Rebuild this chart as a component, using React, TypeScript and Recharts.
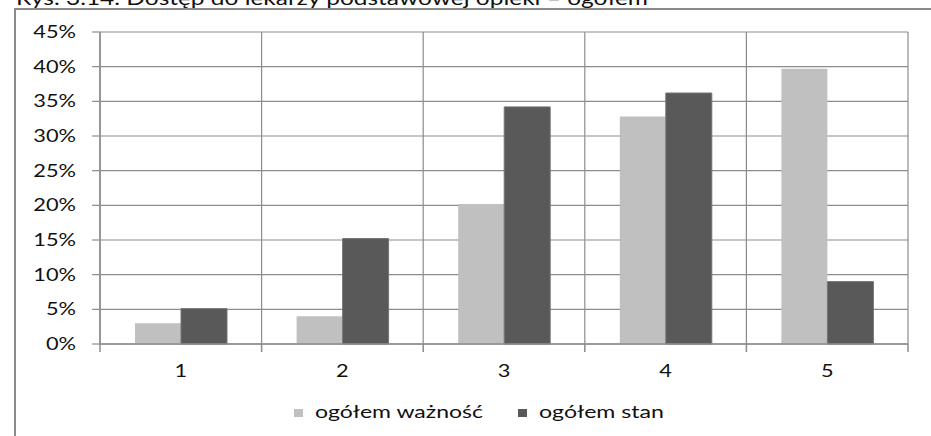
import React from 'react';
import { BarChart, Bar, XAxis, YAxis, CartesianGrid, Legend } from 'recharts';

const categories = ['1', '2', '3', '4', '5'];
const importanceValues = [3.0, 4.0, 20.2, 32.8, 39.7];
const stateValues = [5.1, 15.2, 34.2, 36.2, 9.0];
const yTicks = [0, 5, 10, 15, 20, 25, 30, 35, 40, 45];
const seriesNames = ['ogółem ważność', 'ogółem stan'];
const titleText = 'Rys. 3.14. Dostęp do lekarzy podstawowej opieki – ogółem';

const data = categories.map((c, i) => ({
  cat: c,
  importance: importanceValues[i],
  state: stateValues[i],
}));

const FONT = 'Lato, "Open Sans", sans-serif';
const GRID = '#8c8c8c';
const LIGHT = '#c0c0c0';
const DARK = '#595959';
const SX = 1.32;
const X_TICK_SIZE = 8;
const X_TICK_MARGIN = 13;

const YTick = (props: any) => {
  const { x, y, payload } = props;
  return (
    <g transform={`translate(${x},${y})`}>
      <text
        transform={`scale(${SX},1)`}
        textAnchor="end"
        dy="0.36em"
        fontSize={16.5}
        fontFamily={FONT}
        fill="#111"
      >
        {payload.value}%
      </text>
    </g>
  );
};

const XTick = (props: any) => {
  const { x, y, payload, index } = props;
  const axisY = y - X_TICK_SIZE - X_TICK_MARGIN;
  const half = payload.offset || 0;
  return (
    <g>
      <line x1={x - half} x2={x - half} y1={axisY} y2={axisY + X_TICK_SIZE} stroke={GRID} strokeWidth={1.5} />
      {index === categories.length - 1 && (
        <line x1={x + half} x2={x + half} y1={axisY} y2={axisY + X_TICK_SIZE} stroke={GRID} strokeWidth={1.5} />
      )}
      <g transform={`translate(${x},${y})`}>
        <text
          transform={`scale(${SX},1)`}
          textAnchor="middle"
          dy="0.72em"
          fontSize={16.5}
          fontFamily={FONT}
          fill="#111"
        >
          {payload.value}
        </text>
      </g>
    </g>
  );
};

const LegendContent = () => {
  const colors = [LIGHT, DARK];
  const itemX = [0, 224];
  const textLen = [168, 125];
  return (
    <svg width={400} height={30} style={{ overflow: 'visible' }}>
      {seriesNames.map((name, i) => (
        <g key={name}>
          <rect x={itemX[i]} y={9} width={9} height={8} fill={colors[i]} />
          <text
            x={itemX[i] + 21}
            y={18}
            fontSize={17}
            fontFamily={FONT}
            fill="#111"
            textLength={textLen[i]}
            lengthAdjust="spacingAndGlyphs"
          >
            {name}
          </text>
        </g>
      ))}
    </svg>
  );
};

export default function App() {
  return (
    <div style={{ position: 'absolute', left: 0, top: 0, width: 931, height: 436, background: '#fff', overflow: 'hidden' }}>
      <svg width={931} height={20} style={{ position: 'absolute', left: 0, top: 0 }}>
        <text
          x={16}
          y={5}
          fontSize={20}
          fontFamily={FONT}
          fill="#111"
          textLength={632}
          lengthAdjust="spacingAndGlyphs"
        >
          {titleText}
        </text>
      </svg>
      <div
        style={{
          position: 'absolute',
          left: 14,
          top: 8,
          width: 940,
          height: 440,
          borderTop: '2px solid #8a8a8a',
          borderLeft: '2px solid #8a8a8a',
        }}
      />
      <div style={{ position: 'absolute', left: 0, top: 0 }}>
        <BarChart
          width={931}
          height={436}
          data={data}
          margin={{ top: 32, right: 23, left: 0, bottom: 52 }}
          barGap={0}
          barSize={46}
        >
          <CartesianGrid
            stroke={GRID}
            strokeWidth={1.2}
            verticalCoordinatesGenerator={({ offset }: any) =>
              Array.from({ length: categories.length + 1 }, (_, i) => offset.left + (i * offset.width) / categories.length)
            }
          />
          <XAxis
            dataKey="cat"
            height={40}
            axisLine={{ stroke: GRID, strokeWidth: 1.5 }}
            tickLine={false}
            tickSize={X_TICK_SIZE}
            tickMargin={X_TICK_MARGIN}
            tick={<XTick />}
            interval={0}
          />
          <YAxis
            width={100}
            domain={[0, 45]}
            ticks={yTicks}
            interval={0}
            axisLine={{ stroke: GRID, strokeWidth: 1.5 }}
            tickLine={{ stroke: GRID, strokeWidth: 1.2 }}
            tickSize={8}
            tickMargin={16}
            tick={<YTick />}
          />
          <Legend
            content={<LegendContent />}
            wrapperStyle={{ position: 'absolute', left: 294, top: 400, width: 400, height: 0, overflow: 'visible' }}
          />
          <Bar dataKey="importance" name={seriesNames[0]} fill={LIGHT} isAnimationActive={false} />
          <Bar dataKey="state" name={seriesNames[1]} fill={DARK} stroke="#747474" strokeWidth={1} isAnimationActive={false} />
        </BarChart>
      </div>
    </div>
  );
}
